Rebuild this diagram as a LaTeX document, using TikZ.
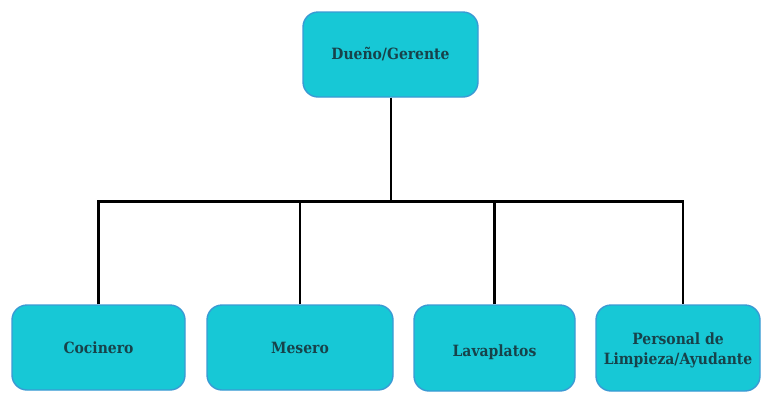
\documentclass[tikz,border=0pt]{standalone}
\usepackage{fontspec}
\setmainfont{DejaVu Serif Condensed}[BoldFont={DejaVu Serif Condensed Bold}]
\definecolor{boxfill}{HTML}{17C8D6}
\definecolor{boxline}{HTML}{3A9AD4}
\definecolor{boxtext}{HTML}{17424A}
\tikzset{
  role/.style={draw=boxline, line width=1.4pt, fill=boxfill, rounded corners=15pt,
    text=boxtext, font=\bfseries\fontsize{15.5}{20}\selectfont, align=center,
    inner sep=0pt, minimum height=85pt},
  link/.style={line width=2.6pt, black}
}
% text placed with its baseline a given distance below the node centre
\newcommand{\basedrop}[2]{\raisebox{-#1}[0pt][0pt]{#2}}
\begin{document}
\begin{tikzpicture}[x=1pt, y=-1pt]
  \useasboundingbox (0,0) rectangle (762,392);
  % one node per role
  \node[role, minimum width=175pt] (boss) at (390.5,54.5) {Dueño/Gerente};
  \node[role, minimum width=173pt] (cook) at (98.5,347.5) {Cocinero};
  \node[role, minimum width=186pt] (waiter) at (300,347.5) {Mesero};
  \node[role, minimum width=161pt, minimum height=86pt] (wash) at (494.5,348) {\basedrop{8pt}{Lavaplatos}};
  \node[role, minimum width=164pt, minimum height=86pt] (clean) at (678,348)
    {\basedrop{16pt}{\begin{tabular}[b]{@{}c@{}}Personal de\\Limpieza/Ayudante\end{tabular}}};
  % connector tree
  \coordinate (hub) at (391,201.5);
  \coordinate (cleanin) at (683,201.5);
  \draw[link] ([xshift=0.5pt]boss.south) -- (hub);
  \draw[link] (cook.north) |- (cleanin) -- ([xshift=5pt]clean.north);
  \draw[link] (waiter.north) -- (waiter.north |- hub);
  \draw[link] (wash.north) -- (wash.north |- hub);
\end{tikzpicture}
\end{document}
